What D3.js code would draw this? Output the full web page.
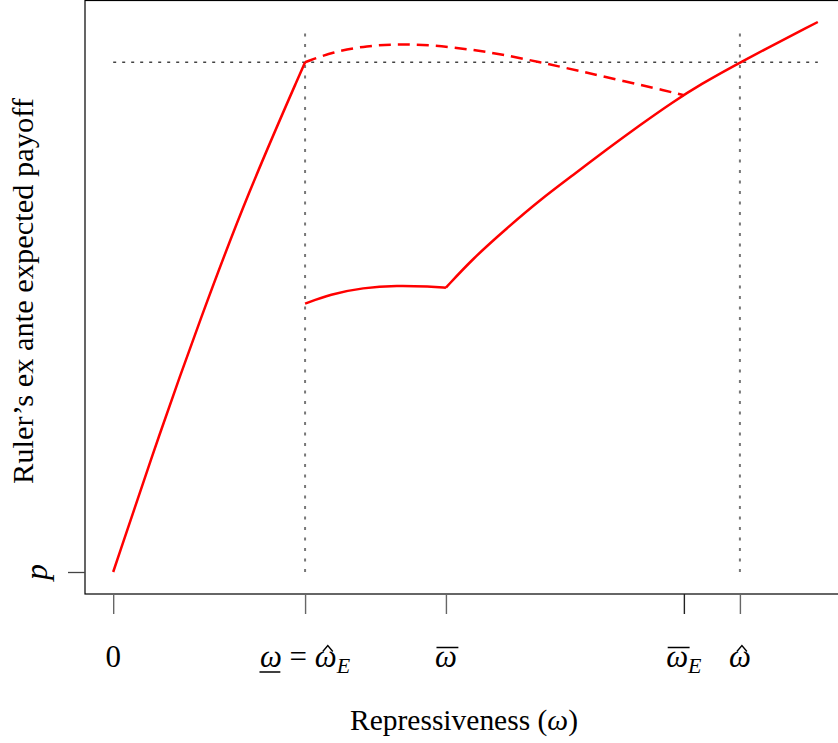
<!DOCTYPE html>
<html><head><meta charset="utf-8">
<script src="https://cdn.jsdelivr.net/npm/d3@7/dist/d3.min.js"></script>
<style>body{margin:0;background:#fff}</style></head>
<body><svg id="chart" width="838" height="743"></svg>
<script>
// ---- data (omega in units where omega_lower = 1; payoff normalised, p = 0) ----
const curveLowX  = [0, 0.245, 0.453, 0.698, 1.0];
const curveLowY  = [0, 0.255, 0.458, 0.685, 0.925];

const dashedX = [1.0, 1.146, 1.323, 1.495, 1.667, 1.844, 2.016, 2.224, 2.432, 2.656, 2.885, 2.974];
const dashedY = [0.925, 0.944, 0.955, 0.958, 0.956, 0.949, 0.940, 0.925, 0.909, 0.891, 0.873, 0.865];

const midX = [1.0, 1.130, 1.302, 1.479, 1.651, 1.734];
const midY = [0.487, 0.504, 0.516, 0.520, 0.518, 0.516];

const highX = [1.734, 1.875, 2.052, 2.224, 2.396, 2.573, 2.745, 2.917, 3.057, 3.266, 3.672];
const highY = [0.516, 0.569, 0.624, 0.675, 0.720, 0.767, 0.811, 0.853, 0.884, 0.925, 0.998];

const xTickValues = [0, 1.0, 1.734, 2.974, 3.266];
const xTickLabels = [
  [["0","n"]],
  [["ω","under"],[" = ","n"],["ω","hat"],["E","sub"]],
  [["ω","bar"]],
  [["ω","bar"],["E","sub"]],
  [["ω","hat"]]
];
const yTickValues = [0];
const yTickLabels = ["p"];
const refY = 0.925;            // horizontal dotted reference level
const refXs = [1.0, 3.266];    // vertical dotted references
const refTop = 0.989;
const xTitle = "Repressiveness (";
const yTitle = "Ruler’s ex ante expected payoff";

// ---- drawing ----
const svg = d3.select("#chart");
const font = "'Liberation Serif', 'DejaVu Serif', serif";
const xMin = 0, xMax = 3.672, yMin = 0, yMax = 0.998;
const padX = (xMax - xMin) * 0.04, padY = (yMax - yMin) * 0.04;
const x = d3.scaleLinear().domain([xMin - padX, xMax + padX]).range([85, 846]);
const y = d3.scaleLinear().domain([yMin - padY, yMax + padY]).range([594, 0]);

const zip = (a, b) => a.map((v, i) => [v, b[i]]);
const line = d3.line().x(d => x(d[0])).y(d => y(d[1])).curve(d3.curveBasis);

// reference lines
svg.append("line")
  .attr("x1", x(0)).attr("x2", x(xMax)).attr("y1", y(refY)).attr("y2", y(refY))
  .attr("stroke", "#444").attr("stroke-width", 1.3).attr("stroke-dasharray", "3,6");
refXs.forEach(v => {
  svg.append("line")
    .attr("x1", x(v)).attr("x2", x(v)).attr("y1", y(0)).attr("y2", y(refTop))
    .attr("stroke", "#777").attr("stroke-width", 2).attr("stroke-dasharray", "3,7.5");
});

// curves
const red = "#ff0000";
[[curveLowX, curveLowY, null], [midX, midY, null], [highX, highY, null], [dashedX, dashedY, "12,7"]]
  .forEach(([xs, ys, dash]) => {
    svg.append("path").datum(zip(xs, ys)).attr("d", line)
      .attr("fill", "none").attr("stroke", red).attr("stroke-width", 2.5)
      .attr("stroke-linejoin", "round")
      .attr("stroke-dasharray", dash);
  });

// box
svg.append("rect").attr("x", 85).attr("y", 0.5).attr("width", 761).attr("height", 593.5)
  .attr("fill", "none").attr("stroke", "#000").attr("stroke-width", 1.2);

// x axis ticks
const xAxis = d3.axisBottom(x).tickValues(xTickValues).tickSize(20).tickFormat("");
const gx = svg.append("g").attr("transform", "translate(0,594)").call(xAxis);
gx.select(".domain").remove();
gx.selectAll(".tick line").attr("stroke", (d, i) => i === 3 ? "#222" : "#666").attr("stroke-width", 1.4);

const fs = 31, base = 667;
xTickValues.forEach((v, i) => {
  const t = svg.append("text").attr("x", x(v)).attr("y", base)
    .attr("text-anchor", "middle").attr("font-family", font).attr("font-size", fs).attr("fill", "#000");
  const decos = [];
  let idx = 0;
  xTickLabels[i].forEach(([s, k]) => {
    const ts = t.append("tspan").text(s);
    if (k !== "n") ts.attr("font-style", "italic");
    if (k === "sub") ts.attr("font-size", 22).attr("dy", 6);
    if (k === "under" || k === "bar" || k === "hat") decos.push([idx, k]);
    idx += s.length;
  });
  const node = t.node();
  decos.forEach(([ci, k]) => {
    const e = node.getExtentOfChar(ci);
    const x0 = e.x, w = e.width;
    if (k === "under") {
      svg.append("line").attr("x1", x0 - 0.5).attr("x2", x0 + w - 1.5)
        .attr("y1", base + 5).attr("y2", base + 5).attr("stroke", "#000").attr("stroke-width", 1.5);
    } else if (k === "bar") {
      svg.append("line").attr("x1", x0 + 1.5).attr("x2", x0 + w + 1.5)
        .attr("y1", base - 19.5).attr("y2", base - 19.5).attr("stroke", "#000").attr("stroke-width", 1.5);
    } else {
      const cx = x0 + w / 2 + 2;
      svg.append("path")
        .attr("d", `M${cx - 5},${base - 15.5} L${cx},${base - 21.5} L${cx + 5},${base - 15.5}`)
        .attr("fill", "none").attr("stroke", "#000").attr("stroke-width", 1.4)
        .attr("stroke-linejoin", "miter");
    }
  });
});

// y axis tick
const yAxis = d3.axisLeft(y).tickValues(yTickValues).tickSize(17).tickFormat("");
const gy = svg.append("g").attr("transform", "translate(85,0)").call(yAxis);
gy.select(".domain").remove();
gy.selectAll(".tick line").attr("stroke", "#444").attr("stroke-width", 1.3);
yTickValues.forEach((v, i) => {
  svg.append("text").attr("transform", `translate(47,${y(v)}) rotate(-90)`)
    .attr("text-anchor", "middle").attr("font-family", font).attr("font-style", "italic")
    .attr("font-size", 32).text(yTickLabels[i]);
});

// titles
const xt = svg.append("text").attr("x", 464).attr("y", 730).attr("text-anchor", "middle")
  .attr("font-family", font).attr("font-size", 28.5)
  .attr("textLength", 228).attr("lengthAdjust", "spacingAndGlyphs");
xt.append("tspan").text(xTitle);
xt.append("tspan").attr("font-style", "italic").text("ω");
xt.append("tspan").text(")");

svg.append("text").attr("transform", "translate(33,291) rotate(-90)").attr("text-anchor", "middle")
  .attr("font-family", font).attr("font-size", 28.5)
  .attr("textLength", 386).attr("lengthAdjust", "spacingAndGlyphs").text(yTitle);
</script></body></html>
